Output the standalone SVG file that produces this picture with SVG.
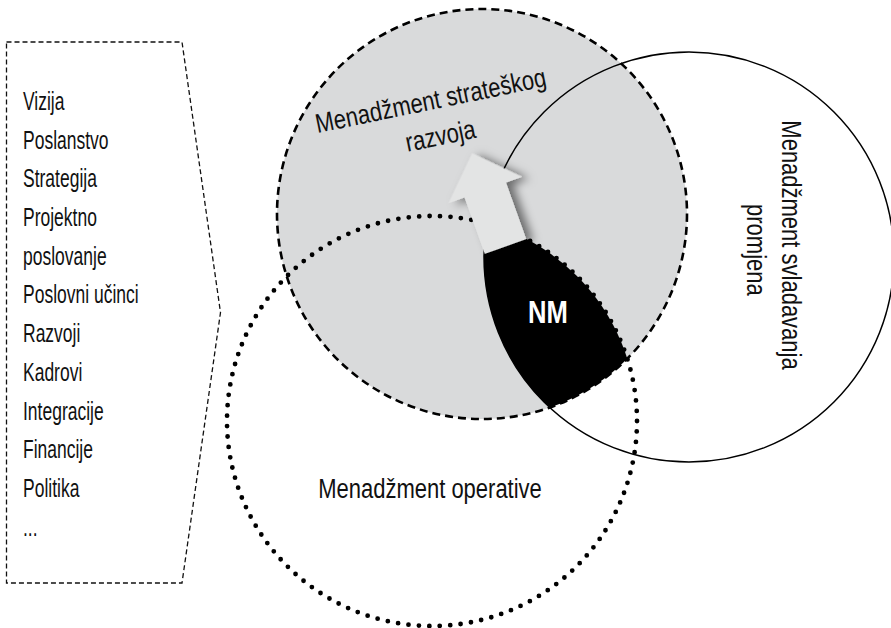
<svg xmlns="http://www.w3.org/2000/svg" width="891" height="628" viewBox="0 0 891 628">
  <style>
    .txt { font-family: "Liberation Sans", Arial, sans-serif; fill: #111; }
    .list { font-size: 25px; }
    .lbl { font-size: 27px; }
    .nm { font-family: "Liberation Sans", Arial, sans-serif; font-weight: bold; font-size: 32px; fill: #fff; }
    .box { fill: none; stroke: #111; stroke-width: 1.3; stroke-dasharray: 5 3; }
    .dashed { stroke: #000; stroke-width: 2.6; stroke-dasharray: 8 5; }
    .dotted { fill: none; stroke: #000; stroke-width: 4.8; stroke-linecap: round; stroke-dasharray: 0 10.47; }
    .solid { fill: none; stroke: #000; stroke-width: 1.5; }
  </style>
  <defs>
    <clipPath id="clipOper"><circle cx="432" cy="421" r="205"/></clipPath>
    <clipPath id="clipStrat"><circle cx="482" cy="214" r="205"/></clipPath>
    <filter id="shadow" x="-40%" y="-40%" width="180%" height="180%">
      <feDropShadow dx="6" dy="4" stdDeviation="5" flood-color="#000" flood-opacity="0.5"/>
    </filter>
  </defs>

  <rect width="891" height="628" fill="#fff"/>

  <!-- list panel -->
  <g id="list-panel">
    <polygon class="box" points="6.5,42 182,42 220.5,312.5 182,583 6.5,583"/>
    <g class="txt list" transform="translate(23,0) scale(0.7,1)">
      <text x="0" y="110">Vizija</text>
      <text x="0" y="148.7">Poslanstvo</text>
      <text x="0" y="187.4">Strategija</text>
      <text x="0" y="226.1">Projektno</text>
      <text x="0" y="264.8">poslovanje</text>
      <text x="0" y="303.5">Poslovni učinci</text>
      <text x="0" y="342.2">Razvoji</text>
      <text x="0" y="380.9">Kadrovi</text>
      <text x="0" y="419.6">Integracije</text>
      <text x="0" y="458.3">Financije</text>
      <text x="0" y="497">Politika</text>
      <text x="0" y="535.7">...</text>
    </g>
  </g>

  <!-- strategic development (grey, dashed) -->
  <g id="strategic">
    <circle cx="482" cy="214" r="205" fill="#d9dadb"/>
  </g>

  <!-- NM: overlap of all three areas -->
  <g id="nm-area">
    <g clip-path="url(#clipOper)">
      <circle cx="689" cy="257" r="205" fill="#000" clip-path="url(#clipStrat)"/>
    </g>
  </g>

  <!-- outlines -->
  <g id="outlines">
    <circle class="dashed" cx="482" cy="214" r="205" fill="none"/>
    <circle id="operative" class="dotted" cx="432" cy="421" r="205"/>
    <circle id="change" class="solid" cx="689" cy="257" r="205"/>
  </g>

  <!-- direction arrow -->
  <g id="connectors">
    <path d="M-22,0 L-22,-60 L-39,-60 L0,-99 L39,-60 L22,-60 L22,0 Z" fill="#e3e4e4" filter="url(#shadow)" transform="translate(505.5,246.5) rotate(-19.7)"/>
  </g>

  <!-- labels -->
  <g id="strategic-label" class="txt lbl" transform="translate(432.5,109.5) rotate(-11.6) scale(0.815,1)">
    <text x="0" y="0" text-anchor="middle">Menadžment strateškog</text>
    <text x="3" y="36.5" text-anchor="middle">razvoja</text>
  </g>
  <g id="change-label" class="txt lbl" transform="translate(782,245) rotate(90) scale(0.815,1)">
    <text x="0" y="0" text-anchor="middle">Menadžment svladavanja</text>
    <text x="6" y="35" text-anchor="middle">promjena</text>
  </g>
  <g id="operative-label" class="txt lbl" transform="translate(430,498) scale(0.815,1)">
    <text x="0" y="0" text-anchor="middle">Menadžment operative</text>
  </g>
  <g id="nm-label" transform="translate(548,323) scale(0.8,1)">
    <text class="nm" x="0" y="0" text-anchor="middle">NM</text>
  </g>
</svg>
